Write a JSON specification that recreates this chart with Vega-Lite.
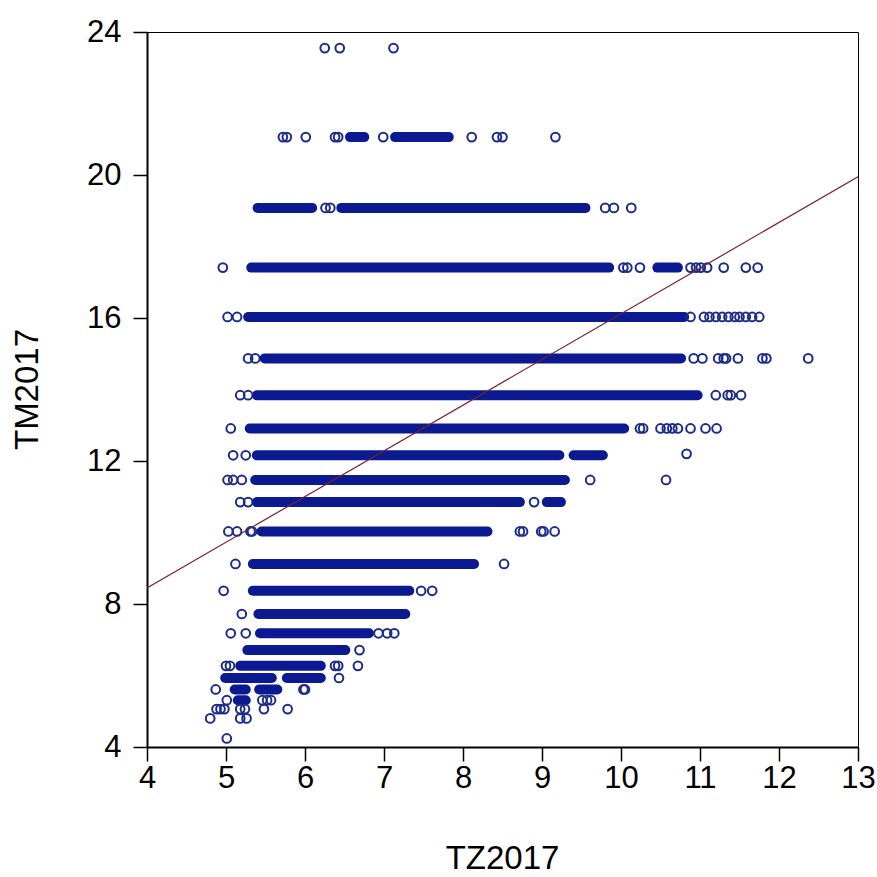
{
  "$schema": "https://vega.github.io/schema/vega-lite/v6.json",
  "autosize": "none",
  "padding": {"left": 147, "top": 32, "right": 19, "bottom": 130},
  "width": 711,
  "height": 715,
  "background": "white",
  "datasets": {
    "runs": [
      {"tm": 21.06, "tz_from": 6.57, "tz_to": 6.75},
      {"tm": 21.06, "tz_from": 7.14, "tz_to": 7.82},
      {"tm": 19.08, "tz_from": 5.40, "tz_to": 6.09},
      {"tm": 19.08, "tz_from": 6.46, "tz_to": 9.55},
      {"tm": 17.41, "tz_from": 5.32, "tz_to": 9.85},
      {"tm": 17.41, "tz_from": 10.46, "tz_to": 10.72},
      {"tm": 16.03, "tz_from": 5.28, "tz_to": 10.80},
      {"tm": 14.87, "tz_from": 5.49, "tz_to": 10.76},
      {"tm": 13.84, "tz_from": 5.39, "tz_to": 10.97},
      {"tm": 12.91, "tz_from": 5.30, "tz_to": 10.04},
      {"tm": 12.16, "tz_from": 5.39, "tz_to": 9.22},
      {"tm": 12.16, "tz_from": 9.40, "tz_to": 9.77},
      {"tm": 11.47, "tz_from": 5.37, "tz_to": 9.29},
      {"tm": 10.85, "tz_from": 5.39, "tz_to": 8.72},
      {"tm": 10.85, "tz_from": 9.06, "tz_to": 9.24},
      {"tm": 10.03, "tz_from": 5.45, "tz_to": 8.31},
      {"tm": 9.12, "tz_from": 5.34, "tz_to": 8.14},
      {"tm": 8.37, "tz_from": 5.34, "tz_to": 7.32},
      {"tm": 7.72, "tz_from": 5.41, "tz_to": 7.27},
      {"tm": 7.18, "tz_from": 5.43, "tz_to": 6.81},
      {"tm": 6.71, "tz_from": 5.27, "tz_to": 6.51},
      {"tm": 6.27, "tz_from": 5.18, "tz_to": 6.20},
      {"tm": 5.93, "tz_from": 4.99, "tz_to": 5.58},
      {"tm": 5.93, "tz_from": 5.77, "tz_to": 6.20},
      {"tm": 5.61, "tz_from": 5.11, "tz_to": 5.25},
      {"tm": 5.61, "tz_from": 5.42, "tz_to": 5.65},
      {"tm": 5.31, "tz_from": 5.15, "tz_to": 5.25}
    ],
    "points": [
      {"tm": 23.55, "tz": 6.25}, {"tm": 23.55, "tz": 6.44}, {"tm": 23.55, "tz": 7.12},
      {"tm": 21.06, "tz": 5.72}, {"tm": 21.06, "tz": 5.77}, {"tm": 21.06, "tz": 6.01},
      {"tm": 21.06, "tz": 6.38}, {"tm": 21.06, "tz": 6.42}, {"tm": 21.06, "tz": 6.99},
      {"tm": 21.06, "tz": 8.11}, {"tm": 21.06, "tz": 8.43}, {"tm": 21.06, "tz": 8.50},
      {"tm": 21.06, "tz": 9.17},
      {"tm": 19.08, "tz": 6.26}, {"tm": 19.08, "tz": 6.32}, {"tm": 19.08, "tz": 9.80},
      {"tm": 19.08, "tz": 9.91}, {"tm": 19.08, "tz": 10.13},
      {"tm": 17.41, "tz": 4.96}, {"tm": 17.41, "tz": 10.03}, {"tm": 17.41, "tz": 10.08},
      {"tm": 17.41, "tz": 10.24}, {"tm": 17.41, "tz": 10.88}, {"tm": 17.41, "tz": 10.95},
      {"tm": 17.41, "tz": 11.01}, {"tm": 17.41, "tz": 11.09}, {"tm": 17.41, "tz": 11.30},
      {"tm": 17.41, "tz": 11.58}, {"tm": 17.41, "tz": 11.73},
      {"tm": 16.03, "tz": 5.02}, {"tm": 16.03, "tz": 5.14}, {"tm": 16.03, "tz": 10.88},
      {"tm": 16.03, "tz": 11.05}, {"tm": 16.03, "tz": 11.12}, {"tm": 16.03, "tz": 11.20},
      {"tm": 16.03, "tz": 11.28}, {"tm": 16.03, "tz": 11.36}, {"tm": 16.03, "tz": 11.44},
      {"tm": 16.03, "tz": 11.50}, {"tm": 16.03, "tz": 11.58}, {"tm": 16.03, "tz": 11.66},
      {"tm": 16.03, "tz": 11.75},
      {"tm": 14.87, "tz": 5.28}, {"tm": 14.87, "tz": 5.37}, {"tm": 14.87, "tz": 10.92},
      {"tm": 14.87, "tz": 11.03}, {"tm": 14.87, "tz": 11.23}, {"tm": 14.87, "tz": 11.30},
      {"tm": 14.87, "tz": 11.33}, {"tm": 14.87, "tz": 11.48}, {"tm": 14.87, "tz": 11.79},
      {"tm": 14.87, "tz": 11.84}, {"tm": 14.87, "tz": 12.37},
      {"tm": 13.84, "tz": 5.18}, {"tm": 13.84, "tz": 5.28}, {"tm": 13.84, "tz": 11.20},
      {"tm": 13.84, "tz": 11.35}, {"tm": 13.84, "tz": 11.39}, {"tm": 13.84, "tz": 11.52},
      {"tm": 12.91, "tz": 5.06}, {"tm": 12.91, "tz": 10.24}, {"tm": 12.91, "tz": 10.28},
      {"tm": 12.91, "tz": 10.50}, {"tm": 12.91, "tz": 10.58}, {"tm": 12.91, "tz": 10.65},
      {"tm": 12.91, "tz": 10.72}, {"tm": 12.91, "tz": 10.88}, {"tm": 12.91, "tz": 11.07},
      {"tm": 12.91, "tz": 11.21},
      {"tm": 12.16, "tz": 5.09}, {"tm": 12.16, "tz": 5.25}, {"tm": 12.2, "tz": 10.83},
      {"tm": 11.47, "tz": 5.02}, {"tm": 11.47, "tz": 5.09}, {"tm": 11.47, "tz": 5.20},
      {"tm": 11.47, "tz": 9.61}, {"tm": 11.47, "tz": 10.57},
      {"tm": 10.85, "tz": 5.18}, {"tm": 10.85, "tz": 5.28}, {"tm": 10.85, "tz": 8.90},
      {"tm": 10.03, "tz": 5.03}, {"tm": 10.03, "tz": 5.14}, {"tm": 10.03, "tz": 5.31},
      {"tm": 10.03, "tz": 5.33}, {"tm": 10.03, "tz": 8.72}, {"tm": 10.03, "tz": 8.76},
      {"tm": 10.03, "tz": 8.99}, {"tm": 10.03, "tz": 9.02}, {"tm": 10.03, "tz": 9.16},
      {"tm": 9.12, "tz": 5.12}, {"tm": 9.12, "tz": 8.52},
      {"tm": 8.37, "tz": 4.97}, {"tm": 8.37, "tz": 7.47}, {"tm": 8.37, "tz": 7.61},
      {"tm": 7.72, "tz": 5.20},
      {"tm": 7.18, "tz": 5.06}, {"tm": 7.18, "tz": 5.25}, {"tm": 7.18, "tz": 6.93},
      {"tm": 7.18, "tz": 7.04}, {"tm": 7.18, "tz": 7.13},
      {"tm": 6.71, "tz": 6.69},
      {"tm": 6.27, "tz": 5.00}, {"tm": 6.27, "tz": 5.05}, {"tm": 6.27, "tz": 6.38},
      {"tm": 6.27, "tz": 6.42}, {"tm": 6.27, "tz": 6.67},
      {"tm": 5.93, "tz": 6.43},
      {"tm": 5.61, "tz": 4.87}, {"tm": 5.61, "tz": 5.98}, {"tm": 5.61, "tz": 6.00},
      {"tm": 5.31, "tz": 5.01}, {"tm": 5.31, "tz": 5.46}, {"tm": 5.31, "tz": 5.52},
      {"tm": 5.31, "tz": 5.57},
      {"tm": 5.06, "tz": 4.88}, {"tm": 5.06, "tz": 4.93}, {"tm": 5.06, "tz": 4.98},
      {"tm": 5.06, "tz": 5.18}, {"tm": 5.06, "tz": 5.24}, {"tm": 5.06, "tz": 5.48},
      {"tm": 5.06, "tz": 5.78},
      {"tm": 4.80, "tz": 4.80}, {"tm": 4.80, "tz": 5.18}, {"tm": 4.80, "tz": 5.26},
      {"tm": 4.24, "tz": 5.01}
    ],
    "fit": [
      {"tz": 4, "tm": 8.45},
      {"tz": 13, "tm": 19.95}
    ]
  },
  "layer": [
    {
      "data": {"name": "runs"},
      "mark": {"type": "rule", "strokeWidth": 10, "strokeCap": "round", "color": "#0b1a90"},
      "encoding": {
        "x": {"field": "tz_from", "type": "quantitative", "title": "TZ2017",
              "scale": {"domain": [4, 13], "nice": false, "zero": false},
              "axis": {"values": [4, 5, 6, 7, 8, 9, 10, 11, 12, 13], "format": "d"}},
        "x2": {"field": "tz_to"},
        "y": {"field": "tm", "type": "quantitative", "title": "TM2017",
              "scale": {"domain": [4, 24], "nice": false, "zero": false},
              "axis": {"values": [4, 8, 12, 16, 20, 24], "format": "d"}}
      }
    },
    {
      "data": {"name": "points"},
      "mark": {"type": "point", "shape": "circle", "filled": false, "size": 76,
               "strokeWidth": 2, "color": "#1d2c88", "opacity": 1},
      "encoding": {
        "x": {"field": "tz", "type": "quantitative", "title": "TZ2017"},
        "y": {"field": "tm", "type": "quantitative", "title": "TM2017"}
      }
    },
    {
      "data": {"name": "fit"},
      "mark": {"type": "line", "color": "#7a2230", "strokeWidth": 1.2, "clip": true},
      "encoding": {
        "x": {"field": "tz", "type": "quantitative", "title": "TZ2017"},
        "y": {"field": "tm", "type": "quantitative", "title": "TM2017"}
      }
    }
  ],
  "config": {
    "view": {"stroke": "black", "strokeWidth": 1},
    "axis": {
      "grid": false,
      "domainColor": "black",
      "domainWidth": 2,
      "tickColor": "black",
      "tickWidth": 1.5,
      "tickSize": 14,
      "labelFont": "Liberation Sans",
      "labelFontSize": 31,
      "labelColor": "black",
      "labelFlush": false,
      "labelOverlap": false,
      "titleFont": "Liberation Sans",
      "titleFontSize": 33,
      "titleFontWeight": "normal",
      "titleColor": "black"
    },
    "axisX": {
      "labelPadding": 2,
      "titleX": 355,
      "titleY": 121,
      "titleAlign": "center",
      "titleBaseline": "alphabetic"
    },
    "axisY": {
      "labelPadding": 12,
      "titleX": -110,
      "titleY": 357,
      "titleAngle": 270,
      "titleAlign": "center",
      "titleBaseline": "alphabetic"
    }
  }
}
